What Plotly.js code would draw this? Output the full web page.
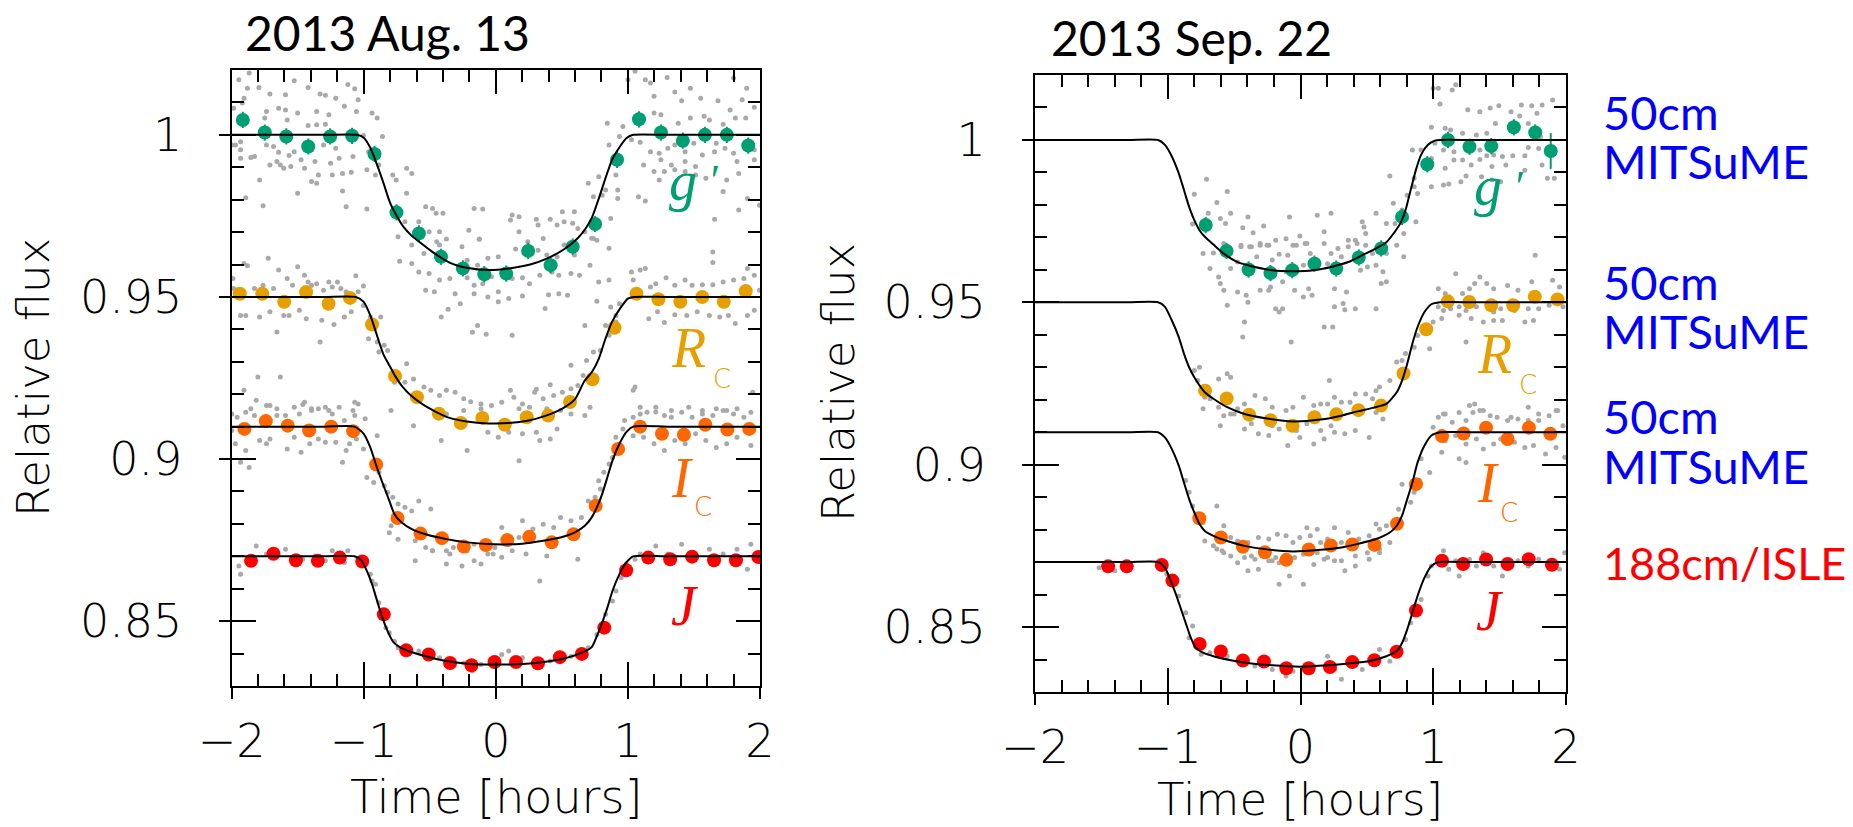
<!DOCTYPE html>
<html><head><meta charset="utf-8">
<script src="https://cdn.plot.ly/plotly-3.0.1.min.js"></script>
<style>html,body{margin:0;padding:0;background:#fff;}#chart{width:1853px;height:827px;}</style>
</head><body><div id="chart"></div>
<script>
// ---------- tick labels ----------
const xTickVals = [-2, -1, 0, 1, 2];
const xTickText = ['\u22122', '\u22121', '0', '1', '2'];
const yTickVals = [0.85, 0.9, 0.95, 1];
const yTickText = ['0.85', '0.9', '0.95', '1'];
const panelTitles = ['2013 Aug. 13', '2013 Sep. 22'];
const instrumentLines = ['50cm', 'MITSuME', '50cm', 'MITSuME', '50cm', 'MITSuME', '188cm/ISLE'];

// ================= 2013 Aug. 13 (left) =================
const aug_gTime = [-1.915,-1.749,-1.586,-1.420,-1.254,-1.088,-0.918,-0.752,-0.582,-0.415,-0.249,-0.087,0.079,0.245,0.415,0.582,0.752,0.918,1.084,1.250,1.416,1.583,1.749,1.911];
const aug_gFlux = [1.0046,1.0007,0.9995,0.9964,0.9995,0.9997,0.9941,0.9761,0.9696,0.9624,0.9588,0.9570,0.9572,0.9642,0.9598,0.9655,0.9725,0.9923,1.0048,1.0007,0.9982,1.0000,1.0000,0.9967];
const aug_gErr = [0.0025,0.0025,0.0025,0.0025,0.0025,0.0025,0.0025,0.0025,0.0025,0.0025,0.0025,0.0025,0.0025,0.0025,0.0025,0.0025,0.0025,0.0025,0.0025,0.0025,0.0025,0.0025,0.0025,0.0025];
const aug_rcTime = [-1.938,-1.768,-1.602,-1.436,-1.266,-1.103,-0.937,-0.763,-0.597,-0.431,-0.265,-0.102,0.068,0.234,0.396,0.562,0.732,0.899,1.065,1.231,1.397,1.563,1.726,1.892];
const aug_rcFlux = [0.9510,0.9510,0.9485,0.9515,0.9479,0.9497,0.9415,0.9256,0.9191,0.9140,0.9111,0.9127,0.9106,0.9129,0.9134,0.9176,0.9246,0.9405,0.9510,0.9493,0.9485,0.9500,0.9485,0.9518];
const aug_icTime = [-1.903,-1.741,-1.575,-1.413,-1.246,-1.080,-0.906,-0.744,-0.570,-0.408,-0.242,-0.075,0.087,0.253,0.423,0.589,0.756,0.926,1.092,1.258,1.424,1.586,1.753,1.919];
const aug_icFlux = [0.9093,0.9117,0.9103,0.9088,0.9100,0.9086,0.8983,0.8818,0.8770,0.8756,0.8730,0.8735,0.8750,0.8760,0.8743,0.8768,0.8856,0.9031,0.9100,0.9078,0.9075,0.9106,0.9091,0.9093];
const aug_jTime = [-1.853,-1.683,-1.513,-1.347,-1.181,-1.011,-0.848,-0.678,-0.508,-0.346,-0.184,-0.010,0.153,0.319,0.485,0.651,0.821,0.987,1.154,1.320,1.486,1.652,1.818,1.988];
const aug_jFlux = [0.8686,0.8708,0.8688,0.8686,0.8696,0.8684,0.8521,0.8410,0.8397,0.8371,0.8364,0.8374,0.8374,0.8370,0.8389,0.8399,0.8480,0.8657,0.8696,0.8691,0.8699,0.8688,0.8688,0.8698];
const aug_gModelT = [-2,-1.3,-1.05,-1.0,-0.95,-0.9,-0.85,-0.8,-0.75,-0.7,-0.64,-0.58,-0.48,-0.35,-0.22,-0.06,0.1,0.26,0.39,0.52,0.62,0.68,0.73,0.78,0.83,0.88,0.94,0.99,1.04,1.3,2];
const aug_gModelF = [1,1,1,0.9991,0.9960,0.9909,0.9851,0.9790,0.9750,0.9717,0.9690,0.9670,0.9639,0.9606,0.9590,0.9583,0.9588,0.9600,0.9619,0.9648,0.9681,0.9711,0.9747,0.9804,0.9866,0.9923,0.9964,0.9990,1,1,1];
const aug_rcModelT = [-2,-1.3,-1.06,-1.0,-0.95,-0.9,-0.85,-0.8,-0.76,-0.71,-0.64,-0.55,-0.45,-0.35,-0.22,-0.06,0.1,0.25,0.38,0.5,0.6,0.67,0.73,0.78,0.83,0.88,0.94,1.0,1.05,1.3,2];
const aug_rcModelF = [0.95,0.95,0.95,0.9485,0.9443,0.9382,0.9322,0.9285,0.9255,0.9225,0.9195,0.9168,0.9145,0.9127,0.9116,0.9110,0.9111,0.9119,0.9134,0.9155,0.9185,0.9240,0.9270,0.9310,0.9371,0.9423,0.9464,0.9495,0.95,0.95,0.95];
const aug_icModelT = [-2,-1.3,-1.07,-1.0,-0.95,-0.9,-0.845,-0.806,-0.767,-0.714,-0.636,-0.531,-0.374,-0.217,-0.007,0.202,0.359,0.49,0.595,0.674,0.726,0.765,0.805,0.844,0.883,0.936,0.988,1.04,1.3,2];
const aug_icModelF = [0.91,0.91,0.91,0.9078,0.9036,0.8974,0.8913,0.8871,0.8830,0.8805,0.8784,0.8768,0.8753,0.8743,0.8737,0.8739,0.8748,0.8758,0.8773,0.8794,0.8820,0.8851,0.8892,0.8943,0.8995,0.9047,0.9083,0.91,0.91,0.91];
const aug_jModelT = [-2,-1.3,-1.07,-1.015,-0.976,-0.937,-0.898,-0.858,-0.819,-0.78,-0.74,-0.662,-0.531,-0.374,-0.217,-0.007,0.202,0.359,0.517,0.648,0.726,0.765,0.805,0.844,0.883,0.936,0.988,1.04,1.3,2];
const aug_jModelF = [0.87,0.87,0.87,0.8686,0.8655,0.8614,0.8562,0.8510,0.8469,0.8438,0.8423,0.8408,0.8392,0.8377,0.8369,0.8366,0.8368,0.8374,0.8385,0.8402,0.8420,0.8454,0.8495,0.8541,0.8593,0.8645,0.8681,0.87,0.87,0.87];
const aug_greyG_t = [-1.945,-1.867,-1.793,-1.880,-1.710,-1.592,-1.526,-1.421,-1.330,-1.290,-1.212,-1.120,-1.068,-1.042,-1.146,-1.906,-1.919,-1.985,-1.644,-1.592,-1.736,-1.500,-1.356,-1.264,-1.749,-1.579,-1.421,-1.356,-1.290,-1.055,-0.937,-0.898,
-1.998,-1.932,-1.827,-1.710,-1.657,-1.552,-1.474,-1.369,-1.251,-1.186,-1.081,-1.932,-1.854,-1.631,-1.605,-1.448,-1.343,-1.238,-1.160,-1.094,-0.976,-1.788,-1.395,-1.356,-1.160,-1.500,-1.893,-1.762,-1.133,-0.976,-1.736,-1.644,-1.565,-1.526,-1.395,-1.304,-1.212,-1.683,-1.932,-1.971,
-1.002,-0.963,-0.885,-0.858,-0.911,-0.780,-0.754,-0.675,-0.636,-0.675,-0.740,-0.688,-0.531,-0.479,-0.452,-0.400,-0.583,-0.505,-0.426,-0.204,-0.164,-0.099,-0.125,-0.740,-0.636,-0.426,0.124,0.176,0.111,0.307,0.320,0.412,0.504,0.595,0.517,0.464,0.582,0.621,0.176,0.242,0.359,0.674,0.739,0.765,0.700,0.779,0.805,0.739,0.870,0.831,0.857,0.844,0.909,0.923,0.923,
1.001,1.054,1.132,1.171,1.297,1.198,1.355,1.407,1.473,1.551,1.682,1.800,1.899,1.865,1.957,1.774,1.577,1.617,1.721,1.813,1.892,1.473,1.381,1.250,1.198,1.080,0.962,0.936,1.027,1.093,1.171,1.237,1.302,1.355,1.433,1.499,1.564,1.656,1.669,1.735,1.800,1.957,1.826,1.957,1.250,1.329,1.433,1.512,1.119,1.198,1.276,1.355,1.433,1.512,1.590,1.748,1.839,1.237,1.080,1.132,1.721,1.905,1.839,1.656,1.996,
-0.728,-0.636,-0.544,-0.447,-0.374,-0.256,-0.217,-0.125,-0.138,-0.060,0.019,0.150,0.320,0.386,0.464,0.517,0.595,0.726,0.713,0.857,-0.583,-0.505,-0.426,-0.348,-0.217,-0.164,-0.099,-0.033,0.045,0.124,0.202,0.255,0.333,0.425,0.477,0.569,0.634,-0.531,-0.465,-0.308,-0.164,-0.060,0.019,0.202,0.399,0.477,0.543,0.779,0.857,-0.269,-0.361,-0.413,-0.138,-0.177,-0.073,0.124,0.373,0.674,0.765,0.019,0.098];
const aug_greyG_f = [1.0170,1.0191,1.0146,1.0144,1.0126,1.0124,1.0167,1.0146,1.0126,1.0122,1.0113,1.0155,1.0142,1.0108,1.0088,1.0113,1.0098,1.0082,1.0082,1.0077,1.0072,1.0067,1.0072,1.0062,1.0052,1.0046,1.0029,1.0031,1.0033,1.0072,1.0067,1.0052,
0.9969,0.9954,0.9933,0.9907,0.9918,0.9902,0.9923,0.9918,0.9912,0.9928,0.9933,0.9928,0.9930,0.9907,0.9897,0.9897,0.9876,0.9876,0.9881,0.9885,0.9892,0.9861,0.9856,0.9851,0.9827,0.9820,0.9806,0.9781,0.9778,0.9771,0.9969,0.9946,0.9936,0.9948,0.9954,0.9969,0.9959,0.9964,0.9979,0.9969,
0.9998,0.9948,0.9907,0.9995,0.9876,0.9876,0.9861,0.9897,0.9881,0.9820,0.9747,0.9732,0.9778,0.9773,0.9758,0.9758,0.9732,0.9701,0.9701,0.9706,0.9773,0.9771,0.9678,0.9686,0.9660,0.9660,0.9753,0.9747,0.9737,0.9740,0.9722,0.9740,0.9763,0.9763,0.9732,0.9722,0.9727,0.9711,0.9701,0.9670,0.9680,0.9701,0.9680,0.9675,0.9851,0.9871,0.9814,0.9809,0.9742,0.9830,0.9969,1.0036,0.9876,0.9830,0.9804,
1.0170,1.0196,1.0170,1.0160,1.0177,1.0119,1.0132,1.0105,1.0144,1.0113,1.0105,1.0175,1.0144,1.0108,1.0085,1.0077,1.0057,1.0046,1.0033,1.0052,1.0052,1.0052,1.0036,1.0062,1.0067,1.0062,1.0026,0.9995,0.9985,0.9977,0.9948,0.9943,0.9959,0.9969,0.9948,0.9974,0.9938,0.9948,0.9974,0.9959,0.9943,0.9954,0.9918,0.9923,0.9923,0.9907,0.9918,0.9902,0.9907,0.9887,0.9887,0.9892,0.9887,0.9876,0.9866,0.9861,0.9881,0.9861,0.9809,0.9796,0.9825,0.9804,0.9768,0.9740,0.9783,
0.9610,0.9603,0.9634,0.9670,0.9679,0.9655,0.9613,0.9679,0.9598,0.9619,0.9624,0.9648,0.9644,0.9629,0.9624,0.9660,0.9629,0.9681,0.9598,0.9650,0.9577,0.9572,0.9552,0.9557,0.9559,0.9536,0.9541,0.9562,0.9577,0.9557,0.9559,0.9541,0.9567,0.9577,0.9567,0.9572,0.9567,0.9521,0.9516,0.9510,0.9510,0.9500,0.9516,0.9503,0.9507,0.9510,0.9505,0.9546,0.9552,0.9479,0.9462,0.9438,0.9412,0.9391,0.9385,0.9382,0.9464,0.9412,0.9487,0.9485,0.9495];
const aug_greyR_t = [-1.99,-1.906,-1.880,-1.723,-1.644,-1.579,-1.500,-1.448,-1.421,-1.356,-1.264,-1.199,-1.173,-1.133,-1.060,-1.002,-1.985,-1.932,-1.827,-1.762,-1.683,-1.539,-1.395,-1.304,-1.238,-1.042,-1.002,-1.932,-1.893,-1.788,-1.710,-1.605,-1.565,-1.487,-1.435,-1.317,-1.225,-1.146,-1.094,-1.657,-1.330,-1.801,-1.631,-0.950,-0.871,-0.963,-0.898,-0.845,-0.819,-0.885,-0.675,-0.767,-0.688,-0.623,-0.544,-0.492,-0.426,-0.374,-0.308,-0.243,-0.190,-0.112,-0.033,0.045,0.137,0.202,0.294,0.359,0.438,0.504,0.569,0.621,0.661,0.687,0.739,0.792,0.857,0.831,0.909,0.936,0.909,0.870,1.027,1.093,1.132,1.040,1.171,1.211,1.289,1.355,1.433,1.486,1.564,1.643,1.721,1.800,1.878,1.905,1.957,1.224,1.158,1.276,1.355,1.446,1.525,1.617,1.695,1.761,1.813,1.905,1.957,1.643,1.643,1.996,1.944,1.040,1.054,0.111,0.307,0.412,0.569,
-0.793,-0.623,-0.374,-0.243,-0.112,0.176,0.255,0.386,0.490,0.569,-0.060,0.019,0.098,0.202,0.307,0.464];
const aug_greyR_f = [0.9557,0.9603,0.9596,0.9619,0.9583,0.9557,0.9593,0.9567,0.9546,0.9541,0.9546,0.9546,0.9526,0.9516,0.9565,0.9534,0.9526,0.9510,0.9526,0.9536,0.9526,0.9536,0.9536,0.9521,0.9531,0.9516,0.9474,0.9443,0.9443,0.9438,0.9454,0.9443,0.9443,0.9459,0.9433,0.9428,0.9415,0.9438,0.9454,0.9392,0.9361,0.9253,0.9253,0.9438,0.9438,0.9371,0.9361,0.9351,0.9335,0.9330,0.9294,0.9237,0.9237,0.9247,0.9222,0.9212,0.9196,0.9212,0.9206,0.9186,0.9177,0.9170,0.9165,0.9175,0.9191,0.9170,0.9206,0.9186,0.9196,0.9206,0.9217,0.9227,0.9258,0.9304,0.9330,0.9335,0.9382,0.9412,0.9423,0.9479,0.9443,0.9469,0.9577,0.9583,0.9588,0.9552,0.9531,0.9541,0.9559,0.9536,0.9552,0.9536,0.9538,0.9538,0.9546,0.9552,0.9557,0.9588,0.9567,0.9454,0.9433,0.9421,0.9445,0.9443,0.9454,0.9443,0.9438,0.9443,0.9418,0.9443,0.9459,0.9639,0.9606,0.9521,0.9206,0.9212,0.9222,0.9212,0.9215,0.9229,0.9289,
0.9150,0.9103,0.9139,0.9150,0.9155,0.9155,0.9160,0.9155,0.9150,0.9139,0.9083,0.9067,0.9083,0.9078,0.9083,0.9093];
const aug_greyI_t = [-1.906,-1.854,-1.814,-1.736,-1.657,-1.526,-1.448,-1.395,-1.343,-1.264,-1.186,-1.081,-1.068,1.093,1.211,1.329,1.460,1.564,1.669,1.748,1.826,
-1.998,-1.958,-1.893,-1.827,-1.710,-1.657,-1.592,-1.487,-1.461,-1.395,-1.290,-1.238,-1.146,-1.068,-1.042,-0.989,-1.998,-1.971,-1.893,-1.867,-1.932,-1.788,-1.736,-1.710,-1.579,-1.526,-1.474,-1.408,-1.343,-1.290,-1.212,-1.133,-1.160,-1.107,-1.055,-1.002,-0.898,-0.976,-0.885,-0.924,-0.845,-0.819,-0.780,-0.740,-0.688,-0.636,-0.583,-0.492,-0.793,-0.806,-0.740,-0.610,-0.531,-0.479,-0.374,-0.321,-0.217,-0.164,-0.060,-0.007,0.045,0.098,0.176,0.202,0.281,0.359,0.438,0.490,0.569,0.648,0.700,0.752,0.792,0.779,0.818,0.857,0.883,0.923,0.909,0.962,0.975,1.040,1.093,1.145,1.211,1.276,1.329,1.407,1.486,1.564,1.643,1.721,1.800,1.878,1.931,1.040,1.119,1.198,1.276,1.355,1.433,1.512,1.590,1.669,1.748,1.826,1.931,-0.217,0.176,-0.413,0.333,0.412,0.674,0.713,
-0.610,-0.374,-0.256,-0.164,-0.112,-0.020,0.045,0.124,0.229,0.386,0.621,-0.479,-0.348];
const aug_greyI_f = [0.9212,0.9155,0.9181,0.9165,0.9155,0.9160,0.9175,0.9150,0.9155,0.9150,0.9160,0.9150,0.9175,0.9160,0.9145,0.9150,0.9160,0.9150,0.9155,0.9150,0.9155,
0.9139,0.9129,0.9144,0.9134,0.9165,0.9134,0.9134,0.9139,0.9168,0.9155,0.9160,0.9139,0.9119,0.9134,0.9170,0.9124,0.9088,0.9047,0.9026,0.8974,0.8990,0.9057,0.9047,0.9062,0.9031,0.9067,0.9021,0.9047,0.9062,0.9052,0.9052,0.9026,0.8990,0.9047,0.9062,0.9031,0.9072,0.8943,0.8959,0.8928,0.8918,0.8897,0.8882,0.8861,0.8851,0.8840,0.8871,0.8846,0.8794,0.8773,0.8753,0.8748,0.8727,0.8717,0.8717,0.8727,0.8717,0.8737,0.8707,0.8727,0.8789,0.8748,0.8758,0.8810,0.8784,0.8799,0.8789,0.8820,0.8810,0.8820,0.8871,0.8882,0.8908,0.8933,0.8959,0.8985,0.9005,0.9036,0.9067,0.9093,0.9119,0.9129,0.9139,0.9144,0.9160,0.9134,0.9129,0.9144,0.9129,0.9139,0.9134,0.9150,0.9139,0.9129,0.9144,0.9072,0.9067,0.9047,0.9026,0.9057,0.9047,0.9078,0.9057,0.9036,0.9047,0.9067,0.9042,0.9026,0.8995,0.9057,0.9057,0.9062,0.9134,0.9160,
0.8686,0.8676,0.8670,0.8686,0.8676,0.8707,0.8697,0.8717,0.8707,0.8701,0.8691,0.8717,0.8707];
const aug_greyJ_t = [-1.932,-1.945,-1.814,-1.736,-1.592,-1.526,-1.461,-1.369,-1.290,-1.238,-1.146,-1.120,-1.029,-0.950,-0.937,-0.911,-0.885,-0.845,-0.832,-0.806,-0.767,-0.740,-0.662,-0.583,-0.505,-0.426,-0.321,-0.243,-0.177,-0.112,-0.007,0.045,0.098,0.202,0.307,0.412,0.490,0.569,0.648,0.700,0.765,0.805,0.831,0.883,0.909,0.949,0.988,1.054,1.093,1.211,1.302,1.407,1.486,1.617,1.721,1.826,1.905,1.931,1.970,0.333];
const aug_greyJ_f = [0.8645,0.8670,0.8732,0.8707,0.8722,0.8681,0.8691,0.8701,0.8686,0.8717,0.8681,0.8717,0.8676,0.8645,0.8624,0.8614,0.8557,0.8531,0.8480,0.8464,0.8438,0.8418,0.8418,0.8408,0.8397,0.8387,0.8377,0.8371,0.8346,0.8366,0.8387,0.8397,0.8408,0.8387,0.8361,0.8377,0.8387,0.8392,0.8408,0.8418,0.8459,0.8490,0.8521,0.8562,0.8593,0.8634,0.8676,0.8691,0.8707,0.8732,0.8707,0.8737,0.8701,0.8722,0.8707,0.8722,0.8660,0.8737,0.8701,0.8624];

// ================= 2013 Sep. 22 (right) =================
const sep_gTime = [-0.714,-0.557,-0.391,-0.226,-0.062,0.105,0.269,0.439,0.608,0.765,0.955,1.111,1.273,1.437,1.607,1.768,1.885];
const sep_gFlux = [0.9738,0.9658,0.9601,0.9590,0.9599,0.9619,0.9604,0.9638,0.9666,0.9763,0.9925,1.0000,0.9979,0.9981,1.0039,1.0023,0.9966];
const sep_gErr = [0.0025,0.0025,0.0025,0.0025,0.0025,0.0025,0.0025,0.0025,0.0025,0.0025,0.0025,0.0025,0.0025,0.0025,0.0025,0.0025,0.0055];
const sep_rcTime = [-0.719,-0.556,-0.387,-0.226,-0.060,0.105,0.270,0.436,0.607,0.776,0.947,1.110,1.272,1.437,1.602,1.765,1.936];
const sep_rcFlux = [0.9228,0.9204,0.9154,0.9137,0.9120,0.9146,0.9155,0.9168,0.9182,0.9281,0.9417,0.9503,0.9501,0.9491,0.9491,0.9517,0.9509];
const sep_icTime = [-0.762,-0.600,-0.434,-0.268,-0.107,0.062,0.228,0.390,0.558,0.727,0.870,1.066,1.228,1.398,1.560,1.721,1.882];
const sep_icFlux = [0.8835,0.8776,0.8747,0.8730,0.8707,0.8739,0.8751,0.8754,0.8753,0.8818,0.8940,0.9088,0.9096,0.9114,0.9079,0.9114,0.9095];
const sep_jTime = [-1.449,-1.309,-1.045,-0.965,-0.760,-0.600,-0.434,-0.275,-0.107,0.062,0.222,0.390,0.556,0.724,0.870,1.066,1.225,1.398,1.560,1.719,1.894];
const sep_jFlux = [0.8687,0.8687,0.8691,0.8643,0.8448,0.8425,0.8397,0.8394,0.8373,0.8373,0.8377,0.8392,0.8398,0.8424,0.8551,0.8704,0.8694,0.8708,0.8694,0.8709,0.8692];
const sep_gModelT = [-2,-1.3,-1.073,-1.021,-0.969,-0.917,-0.878,-0.839,-0.8,-0.761,-0.721,-0.656,-0.578,-0.474,-0.343,-0.213,-0.057,0.1,0.23,0.36,0.465,0.569,0.647,0.712,0.752,0.791,0.83,0.869,0.908,0.96,1.012,1.051,1.3,2];
const sep_gModelF = [1,1,1,0.9985,0.9949,0.9897,0.9846,0.9794,0.9753,0.9722,0.9702,0.9678,0.9650,0.9624,0.9609,0.9599,0.9596,0.9599,0.9609,0.9624,0.9645,0.9666,0.9685,0.9718,0.9743,0.9784,0.9846,0.9907,0.9954,0.9985,0.9998,1,1,1];
const sep_rcModelT = [-2,-1.3,-1.073,-1.021,-0.969,-0.917,-0.878,-0.839,-0.8,-0.761,-0.721,-0.656,-0.552,-0.422,-0.265,-0.057,0.152,0.308,0.439,0.543,0.647,0.725,0.765,0.804,0.843,0.882,0.934,0.986,1.051,1.3,2];
const sep_rcModelF = [0.95,0.95,0.95,0.9486,0.9444,0.9393,0.9342,0.9300,0.9269,0.9244,0.9223,0.9203,0.9177,0.9156,0.9143,0.9133,0.9139,0.9151,0.9165,0.9175,0.9187,0.9223,0.9259,0.9311,0.9373,0.9424,0.9470,0.9494,0.95,0.95,0.95];
const sep_icModelT = [-2,-1.3,-1.073,-1.021,-0.969,-0.917,-0.878,-0.839,-0.8,-0.761,-0.721,-0.656,-0.552,-0.422,-0.265,-0.057,0.152,0.308,0.439,0.569,0.673,0.725,0.765,0.804,0.843,0.882,0.934,0.986,1.051,1.3,2];
const sep_icModelF = [0.91,0.91,0.91,0.9084,0.9048,0.8997,0.8945,0.8894,0.8853,0.8817,0.8796,0.8781,0.8765,0.8750,0.8740,0.8733,0.8738,0.8745,0.8757,0.8771,0.8791,0.8812,0.8843,0.8894,0.8945,0.9007,0.9059,0.9090,0.91,0.91,0.91];
const sep_jModelT = [-2,-1.3,-1.068,-1.021,-0.982,-0.943,-0.904,-0.865,-0.826,-0.787,-0.734,-0.656,-0.526,-0.37,-0.213,-0.005,0.204,0.36,0.517,0.647,0.725,0.765,0.804,0.843,0.882,0.934,0.986,1.038,1.3,2];
const sep_jModelF = [0.87,0.87,0.87,0.8683,0.8647,0.8606,0.8560,0.8513,0.8467,0.8436,0.8421,0.8410,0.8398,0.8388,0.8382,0.8378,0.8382,0.8388,0.8395,0.8410,0.8426,0.8451,0.8493,0.8544,0.8596,0.8652,0.8688,0.87,0.87,0.87];
const sep_greyG_t = [0.999,1.038,1.143,1.169,1.051,1.260,1.351,1.429,1.494,1.586,1.664,1.742,1.820,1.899,1.781,1.651,0.986,1.090,1.130,1.221,1.325,1.403,1.468,1.716,1.807,0.843,0.908,1.012,1.077,1.156,1.273,1.351,1.403,1.455,1.521,1.599,1.690,1.794,1.716,1.221,1.286,1.090,1.156,1.351,1.442,1.547,1.820,0.986,0.856,0.673,0.856,0.986,1.077,1.117,1.208,1.247,1.364,1.442,1.508,1.690,1.860,1.912,0.882,0.804,0.699,0.569,0.647,0.712,0.778,0.869,0.765,0.491,0.465,0.478,0.360,0.413,0.178,0.230,0.126,-0.083,-0.005,0.048,-0.109,-0.057,-0.187,-0.278,-0.239,-0.357,-0.396,-0.435,-0.552,-0.630,-0.708,-0.800,-0.695,-0.604,-0.565,-0.526,-0.813,-0.448,-0.370,-0.304,-0.734,-0.656,-0.578,-0.448,-0.383,-0.304,-0.252,-0.161,-0.096,-0.031,0.035,0.074,0.178,0.230,0.282,0.360,0.426,0.491,0.543,0.647,0.725,0.778,-0.682,-0.617,-0.604,-0.526,-0.474,-0.330,-0.213,-0.109,0.022,0.126,0.204,0.308,0.413,0.452,0.504,0.569,0.621,0.647,0.608,-0.578,-0.474,-0.409,-0.304,-0.239,-0.226,-0.135,-0.044,0.022,0.061,0.087,0.256,0.347,-0.552,-0.396,-0.187,-0.161,-0.135,0.256,0.321,0.334,0.413,0.569,-0.422,-0.435,-0.070,0.178,0.243];
const sep_greyG_f = [1.0159,1.0159,1.0154,1.0170,1.0111,1.0093,1.0087,1.0098,1.0105,1.0087,1.0108,1.0105,1.0108,1.0123,1.0082,1.0074,1.0039,1.0036,1.0031,1.0021,1.0015,1.0021,1.0051,1.0051,1.0010,0.9969,0.9969,0.9990,0.9969,0.9964,0.9974,0.9969,0.9951,0.9954,0.9949,0.9951,0.9951,0.9974,0.9977,0.9938,0.9923,0.9913,0.9938,0.9940,0.9918,0.9923,0.9923,0.9943,0.9882,0.9889,0.9856,0.9856,0.9861,0.9864,0.9871,0.9889,0.9887,0.9877,0.9871,0.9907,0.9882,0.9882,0.9835,0.9830,0.9805,0.9774,0.9743,0.9743,0.9712,0.9748,0.9784,0.9712,0.9748,0.9732,0.9691,0.9691,0.9717,0.9774,0.9768,0.9763,0.9704,0.9681,0.9696,0.9676,0.9691,0.9735,0.9676,0.9714,0.9763,0.9730,0.9841,0.9807,0.9879,0.9833,0.9774,0.9758,0.9743,0.9774,0.9741,0.9676,0.9671,0.9681,0.9650,0.9652,0.9681,0.9671,0.9671,0.9676,0.9676,0.9648,0.9645,0.9676,0.9681,0.9650,0.9681,0.9650,0.9666,0.9671,0.9681,0.9676,0.9650,0.9650,0.9676,0.9640,0.9604,0.9578,0.9558,0.9604,0.9624,0.9640,0.9630,0.9594,0.9614,0.9630,0.9619,0.9640,0.9630,0.9599,0.9609,0.9614,0.9594,0.9563,0.9558,0.9537,0.9532,0.9522,0.9537,0.9537,0.9547,0.9563,0.9537,0.9516,0.9542,0.9522,0.9542,0.9532,0.9491,0.9500,0.9480,0.9470,0.9480,0.9486,0.9496,0.9477,0.9480,0.9480,0.9439,0.9393,0.9378,0.9424,0.9424];
const sep_greyR_t = [1.038,1.090,1.169,1.221,1.273,1.312,1.351,1.403,1.455,1.560,1.638,1.742,1.768,1.899,1.951,1.038,1.077,1.130,1.195,1.247,1.325,1.455,1.508,1.612,1.716,1.794,1.873,1.977,1.064,0.999,1.195,1.286,1.377,1.455,1.521,1.690,1.755,1.247,0.973,0.882,0.856,0.791,0.765,0.725,0.778,0.673,0.595,0.569,0.543,0.491,0.413,0.373,0.308,0.256,0.204,0.152,0.100,0.022,-0.057,-0.109,-0.213,-0.265,-0.343,-0.422,-0.474,-0.526,-0.617,-0.682,-0.721,-0.774,-0.800,-0.761,-0.617,-0.552,-0.526,0.217,-0.734,-0.604,-0.500,-0.422,-0.317,-0.239,-0.161,-0.096,-0.005,0.100,0.178,0.256,0.334,0.413,0.517,0.621,0.569,-0.578,-0.370,-0.213,-0.031,0.152,0.230,0.048];
const sep_greyR_f = [0.9542,0.9527,0.9588,0.9527,0.9542,0.9558,0.9578,0.9558,0.9542,0.9552,0.9537,0.9563,0.9645,0.9568,0.9547,0.9486,0.9475,0.9480,0.9486,0.9475,0.9486,0.9470,0.9480,0.9475,0.9480,0.9480,0.9491,0.9486,0.9450,0.9439,0.9460,0.9450,0.9439,0.9444,0.9444,0.9439,0.9444,0.9378,0.9357,0.9398,0.9362,0.9342,0.9321,0.9316,0.9269,0.9259,0.9239,0.9228,0.9203,0.9218,0.9218,0.9192,0.9192,0.9208,0.9187,0.9187,0.9182,0.9208,0.9177,0.9167,0.9177,0.9203,0.9213,0.9187,0.9172,0.9156,0.9177,0.9203,0.9208,0.9259,0.9290,0.9300,0.9264,0.9280,0.9269,0.9259,0.9172,0.9120,0.9156,0.9110,0.9095,0.9090,0.9110,0.9059,0.9084,0.9064,0.9079,0.9100,0.9095,0.9105,0.9084,0.9141,0.9161,0.9151,0.9126,0.9120,0.9105,0.9105,0.9120,0.9126];
const sep_greyI_t = [1.038,1.090,1.273,1.312,1.377,1.429,1.586,1.716,1.794,1.938,0.999,1.077,1.143,1.195,1.247,1.299,1.351,1.403,1.481,1.560,1.638,1.716,1.794,1.873,1.925,1.977,1.090,1.169,1.247,1.325,1.377,1.455,1.508,1.612,1.690,1.755,1.846,1.925,1.990,1.064,1.195,1.247,0.973,0.908,0.895,0.856,0.830,0.765,0.739,0.699,0.647,0.595,0.569,0.517,0.439,0.360,0.308,0.256,0.204,0.152,0.074,-0.005,-0.057,-0.109,-0.174,-0.239,-0.317,-0.396,-0.474,-0.526,-0.578,-0.630,-0.734,-0.721,-0.656,-0.591,-0.526,-0.422,-0.343,-0.239,-0.161,-0.044,0.022,0.126,0.204,0.308,0.413,0.504,0.595,0.673,-0.865,-0.839,-0.813,-0.787,-0.187,0.048,0.126,-0.630,-0.474,-0.396,-0.317,-0.213,-0.161,-0.083,0.022,0.100,0.178,0.256,0.334,0.413,0.517,0.595,-0.578,-0.370,-0.239];
const sep_greyI_f = [0.9146,0.9156,0.9182,0.9187,0.9167,0.9151,0.9146,0.9177,0.9156,0.9167,0.9115,0.9156,0.9131,0.9161,0.9136,0.9161,0.9167,0.9115,0.9146,0.9136,0.9141,0.9136,0.9136,0.9151,0.9167,0.9120,0.9074,0.9090,0.9064,0.9079,0.9048,0.9064,0.9079,0.9069,0.9053,0.9059,0.9033,0.9053,0.9023,0.9038,0.9018,0.9007,0.8976,0.9018,0.8951,0.8915,0.8884,0.8940,0.8863,0.8822,0.8812,0.8801,0.8817,0.8781,0.8771,0.8791,0.8760,0.8806,0.8771,0.8760,0.8781,0.8776,0.8760,0.8781,0.8786,0.8771,0.8776,0.8760,0.8765,0.8776,0.8812,0.8873,0.8822,0.8765,0.8750,0.8735,0.8719,0.8714,0.8709,0.8704,0.8698,0.8714,0.8724,0.8729,0.8714,0.8704,0.8719,0.8729,0.8740,0.8760,0.8951,0.8915,0.8873,0.8848,0.8714,0.8806,0.8801,0.8740,0.8698,0.8673,0.8678,0.8704,0.8632,0.8657,0.8632,0.8693,0.8709,0.8704,0.8673,0.8688,0.8709,0.8729,0.8729,0.8719,0.8729];
const sep_greyJ_t = [-1.517,-1.399,-1.282,-1.047,-1.008,-0.956,-0.917,-0.865,-0.813,-0.839,-0.787,-0.748,-0.682,-0.591,-0.552,-0.474,-0.422,-0.343,-0.265,-0.213,-0.109,-0.057,0.022,0.100,0.204,0.256,0.308,0.360,0.465,0.543,0.595,0.673,0.725,0.791,0.830,0.869,0.908,0.960,0.986,1.038,1.117,1.195,1.273,1.325,1.377,1.455,1.521,1.560,1.638,1.716,1.794,1.873,1.951,1.077,1.221,1.169,1.990];
const sep_greyJ_f = [0.8683,0.8673,0.8688,0.8688,0.8663,0.8637,0.8596,0.8544,0.8503,0.8467,0.8441,0.8416,0.8421,0.8421,0.8410,0.8395,0.8390,0.8380,0.8395,0.8369,0.8349,0.8364,0.8369,0.8380,0.8410,0.8369,0.8339,0.8395,0.8369,0.8400,0.8431,0.8395,0.8421,0.8462,0.8513,0.8544,0.8585,0.8657,0.8688,0.8709,0.8678,0.8657,0.8709,0.8688,0.8729,0.8688,0.8657,0.8688,0.8704,0.8688,0.8709,0.8688,0.8678,0.8735,0.8683,0.8704,0.8729];

// ---------- styles ----------
const C_G = '#009E73', C_RC = '#E69F00', C_IC = '#FF6600', C_J = '#FF0000', C_GREY = '#A9A9A9';
const THIN = "DejaVu Sans";
const SANS = "Lato, 'Open Sans', sans-serif";
const SERIF = "'Liberation Serif', 'DejaVu Serif', serif";

function grey(xa, ya, t, f) {
  return {type:'scatter', mode:'markers', x:t, y:f, xaxis:xa, yaxis:ya, hoverinfo:'skip',
          marker:{size:5, color:C_GREY}, showlegend:false};
}
function binned(xa, ya, t, f, color, err) {
  const tr = {type:'scatter', mode:'markers', x:t, y:f, xaxis:xa, yaxis:ya,
          marker:{size:14, color:color}, showlegend:false};
  if (err) tr.error_y = {type:'data', array:err, visible:true, color:color, thickness:2, width:0};
  return tr;
}
function model(xa, ya, t, f) {
  return {type:'scatter', mode:'lines', x:t, y:f, xaxis:xa, yaxis:ya,
          line:{color:'#000', width:2, shape:'spline', smoothing:0.6}, showlegend:false};
}

const traces = [
  grey('x','y',aug_greyG_t,aug_greyG_f), grey('x','y',aug_greyR_t,aug_greyR_f),
  grey('x','y',aug_greyI_t,aug_greyI_f), grey('x','y',aug_greyJ_t,aug_greyJ_f),
  grey('x2','y2',sep_greyG_t,sep_greyG_f), grey('x2','y2',sep_greyR_t,sep_greyR_f),
  grey('x2','y2',sep_greyI_t,sep_greyI_f), grey('x2','y2',sep_greyJ_t,sep_greyJ_f),
  binned('x3','y3',aug_gTime,aug_gFlux,C_G,aug_gErr), binned('x3','y3',aug_rcTime,aug_rcFlux,C_RC),
  binned('x3','y3',aug_icTime,aug_icFlux,C_IC), binned('x3','y3',aug_jTime,aug_jFlux,C_J),
  model('x3','y3',aug_gModelT,aug_gModelF), model('x3','y3',aug_rcModelT,aug_rcModelF),
  model('x3','y3',aug_icModelT,aug_icModelF), model('x3','y3',aug_jModelT,aug_jModelF),
  binned('x4','y4',sep_gTime,sep_gFlux,C_G,sep_gErr), binned('x4','y4',sep_rcTime,sep_rcFlux,C_RC),
  binned('x4','y4',sep_icTime,sep_icFlux,C_IC), binned('x4','y4',sep_jTime,sep_jFlux,C_J),
  model('x4','y4',sep_gModelT,sep_gModelF), model('x4','y4',sep_rcModelT,sep_rcModelF),
  model('x4','y4',sep_icModelT,sep_icModelF), model('x4','y4',sep_jModelT,sep_jModelF)
];

const XR = [-2, 2], YR = [0.83, 1.02];
const tickFont = {family:THIN, size:46, color:'#000', weight:200};
function mainX(domain, anchor) {
  return {domain, anchor, range:XR, showline:true, linecolor:'#000', linewidth:2, mirror:'allticks',
    ticks:'inside', ticklen:24, tickwidth:2, tickcolor:'#000', tickmode:'linear', tick0:0, dtick:1,
    minor:{ticks:'inside', ticklen:12, tickwidth:2, tickcolor:'#000', tickmode:'linear', tick0:0, dtick:0.2, showgrid:false},
    showticklabels:false, showgrid:false, zeroline:false, fixedrange:true};
}
function mainY(domain, anchor) {
  return {domain, anchor, range:YR, showline:true, linecolor:'#000', linewidth:2, mirror:'allticks',
    ticks:'inside', ticklen:24, tickwidth:2, tickcolor:'#000', tickmode:'linear', tick0:0, dtick:0.05,
    minor:{ticks:'inside', ticklen:12, tickwidth:2, tickcolor:'#000', tickmode:'linear', tick0:0, dtick:0.01, showgrid:false},
    showticklabels:false, showgrid:false, zeroline:false, fixedrange:true};
}
function outerX(over, anchor) {
  return {overlaying:over, anchor, side:'bottom', range:XR, showline:false, ticks:'outside', ticklen:12,
    tickwidth:2, tickcolor:'#000', tickmode:'array', tickvals:xTickVals, ticktext:xTickText,
    tickfont:tickFont, ticklabelstandoff:3, showgrid:false, zeroline:false, fixedrange:true};
}
function outerY(over, anchor) {
  return {overlaying:over, anchor, side:'left', range:YR, showline:false, ticks:'outside', ticklen:12,
    tickwidth:2, tickcolor:'#000', tickmode:'array', tickvals:yTickVals, ticktext:yTickText,
    tickfont:tickFont, ticklabelstandoff:27, showgrid:false, zeroline:false, fixedrange:true};
}

const W = 1853, H = 827;
const px = X => X / W, py = Y => 1 - Y / H;
const ann = [];
function paperText(text, X, Y, font, opts) {
  ann.push(Object.assign({text, xref:'paper', yref:'paper', x:px(X), y:py(Y), xanchor:'center', yanchor:'middle',
    showarrow:false, font}, opts || {}));
}
paperText(panelTitles[0], 387, 33, {family:SANS, size:48, color:'#000'});
paperText(panelTitles[1], 1191, 38, {family:SANS, size:48, color:'#000'});
paperText('Relative flux', 33, 378, {family:THIN, size:45, color:'#000', weight:200}, {textangle:-90});
paperText('Relative flux', 838, 383, {family:THIN, size:45, color:'#000', weight:200}, {textangle:-90});
paperText('Time [hours]', 496, 797, {family:THIN, size:46, color:'#000', weight:200});
paperText('Time [hours]', 1300, 799, {family:THIN, size:45, color:'#000', weight:200});
const instY = [112, 161, 282, 331, 416, 466, 563];
instrumentLines.forEach((s, i) => {
  paperText(s, 1601, instY[i], {family:SANS, size: i === 6 ? 45 : 47, color: i === 6 ? '#FF0000' : '#0000FF'}, {xanchor:'left'});
});
function bandLabels(xr, yr) {
  const it = {family:SERIF, size:56};
  const sub = {family:THIN, size:26, weight:200};
  const add = (text, x, y, font, color) => ann.push({text, xref:xr, yref:yr, x, y, xanchor:'center', yanchor:'middle',
      showarrow:false, font:Object.assign({}, font, {color})});
  add('<i>g</i>', 1.415, 0.9858, it, C_G);
  add('<i>\u2032</i>', 1.645, 0.9858, {family:SERIF, size:44}, C_G);
  add('<i>R</i>', 1.46, 0.9342, it, C_RC);
  add('C', 1.71, 0.9246, sub, C_RC);
  add('<i>I</i>', 1.41, 0.8943, it, C_IC);
  add('C', 1.57, 0.8852, sub, C_IC);
  add('<i>J</i>', 1.43, 0.8548, it, C_J);
}
bandLabels('x', 'y');
bandLabels('x2', 'y2');

const layout = {
  width:W, height:H, margin:{l:0, r:0, t:0, b:0}, paper_bgcolor:'#fff', plot_bgcolor:'rgba(0,0,0,0)',
  showlegend:false, font:{family:THIN, color:'#000'},
  xaxis: mainX([231.6/W, 760/W], 'y'),
  yaxis: mainY([1-686/H, 1-70/H], 'x'),
  xaxis2: mainX([1035/W, 1566/W], 'y2'),
  yaxis2: mainY([1-692/H, 1-75/H], 'x2'),
  xaxis3: outerX('x', 'y3'),
  yaxis3: outerY('y', 'x3'),
  xaxis4: outerX('x2', 'y4'),
  yaxis4: outerY('y2', 'x4'),
  annotations: ann
};

Plotly.newPlot('chart', traces, layout, {displayModeBar:false, staticPlot:true});
</script>
</body></html>
